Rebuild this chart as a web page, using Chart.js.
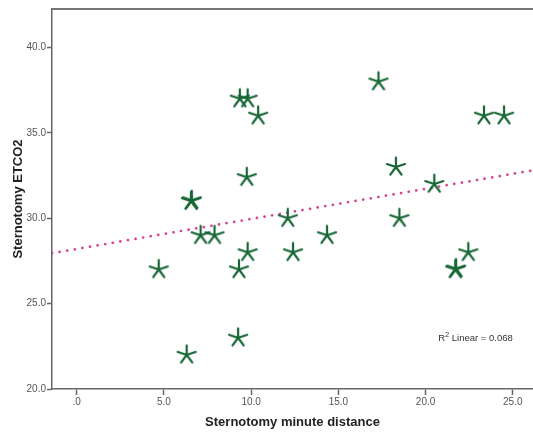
<!DOCTYPE html>
<html>
<head>
<meta charset="utf-8">
<script src="https://cdn.jsdelivr.net/npm/chart.js@4.4.1/dist/chart.umd.min.js"></script>
<style>
  html,body{margin:0;padding:0;background:#fff;}
</style>
</head>
<body>
<canvas id="scatter" width="533" height="433"></canvas>
<script>
// ----- datos -----
const minuteDistance = [4.7, 6.3, 6.55, 6.6, 7.1, 7.9, 9.25, 9.3, 9.35, 9.8, 9.75, 9.8, 10.4, 12.1, 12.4, 14.35, 17.3, 18.3, 18.5, 20.5, 22.45, 21.7, 21.75, 23.35, 24.5];
const etco2 =          [27,  22,  31,   31.05, 29, 29, 23,  27,  37,  37,  32.4, 28,  36,  30,   28,   29,    38,   33,   30,   32,   28,    27,   27.05, 36,   36];
const xTicks = [0, 5, 10, 15, 20, 25];
const yTicks = [20, 25, 30, 35, 40];
const xRange = [-1.42, 26.16];
const yRange = [20, 42.25];
// recta de ajuste lineal
const fitIntercept = 28.2;
const fitSlope = 0.176;
const r2Value = '0.068';

const green = '#156634';
const pink = '#d4448f';
const axisGray = '#666';

// marcador asterisco de 5 brazos
function starMarker(r, color, w){
  const c = document.createElement('canvas');
  const s = Math.ceil(r*2 + w*2);
  c.width = c.height = s;
  const g = c.getContext('2d');
  g.strokeStyle = color; g.lineWidth = w; g.lineCap = 'round';
  g.beginPath();
  for(let i=0;i<5;i++){
    const ang = -Math.PI/2 + i*2*Math.PI/5;
    g.moveTo(s/2, s/2);
    g.lineTo(s/2 + r*Math.cos(ang), s/2 + r*Math.sin(ang));
  }
  g.stroke();
  return c;
}

const points = minuteDistance.map((x,i)=>({x, y: etco2[i]}));
const fitLine = xRange.map(x=>({x, y: fitIntercept + fitSlope*x}));

// marco superior + etiqueta R²
const extras = {
  id:'extras',
  afterDraw(chart){
    const {ctx, chartArea:a, scales:{x,y}} = chart;
    ctx.save();
    ctx.strokeStyle = '#777'; ctx.lineWidth = 2;
    ctx.beginPath(); ctx.moveTo(a.left, a.top); ctx.lineTo(a.right, a.top); ctx.stroke();

    const right = x.getPixelForValue(25);
    const base = y.getPixelForValue(23) + 3.5;
    const main = '9.5px "Liberation Sans"';
    const sup = '7px "Liberation Sans"';
    ctx.fillStyle = '#333';
    ctx.textBaseline = 'alphabetic';
    ctx.font = main;
    const tail = ' Linear = ' + r2Value;
    const wR = ctx.measureText('R').width, wT = ctx.measureText(tail).width;
    ctx.font = sup;
    const w2 = ctx.measureText('2').width;
    let px = right - (wR + w2 + wT);
    ctx.font = main; ctx.fillText('R', px, base); px += wR;
    ctx.font = sup; ctx.fillText('2', px, base - 4); px += w2;
    ctx.font = main; ctx.fillText(tail, px, base);
    ctx.restore();
  }
};

const tickFont = {family:'"Liberation Sans", Arial, sans-serif', size:10};
const titleFont = {family:'"Liberation Sans", Arial, sans-serif', size:13, weight:'bold'};

new Chart(document.getElementById('scatter'), {
  type:'scatter',
  data:{
    datasets:[
      { data: points, pointStyle: starMarker(9.5, green, 2.2), pointRadius: 10, pointHoverRadius: 10 },
      { data: fitLine, showLine:true, pointRadius:0, borderColor: pink, borderWidth:2.7,
        borderDash:[0.1, 7.6], borderCapStyle:'round', fill:false }
    ]
  },
  options:{
    responsive:false, animation:false,
    layout:{ autoPadding:false, padding:{ top:9, right:0, left:0, bottom:0 } },
    plugins:{ legend:{ display:false }, tooltip:{ enabled:false } },
    scales:{
      x:{
        type:'linear', min: xRange[0], max: xRange[1],
        afterBuildTicks: s=>{ s.ticks = xTicks.map(v=>({value:v})); },
        afterFit: s=>{ s.height = 44; },
        grid:{ drawOnChartArea:false, drawTicks:true, tickLength:6, tickWidth:1.5, color: axisGray },
        border:{ display:true, color: axisGray, width:1.5 },
        ticks:{ padding:1, color:'#555', font: tickFont, maxRotation:0, autoSkip:false,
          callback: v => v===0 ? '.0' : v.toFixed(1) },
        title:{ display:true, text:'Sternotomy minute distance', color:'#222', font: titleFont, padding:{ top:0, bottom:3 } }
      },
      y:{
        type:'linear', min: yRange[0], max: yRange[1],
        afterBuildTicks: s=>{ s.ticks = yTicks.map(v=>({value:v})); },
        afterFit: s=>{ s.width = 52; },
        grid:{ drawOnChartArea:false, drawTicks:true, tickLength:5, tickWidth:1.5, color: axisGray },
        border:{ display:true, color: axisGray, width:1.5 },
        ticks:{ padding:1, color:'#555', font: tickFont, autoSkip:false,
          callback: v => v.toFixed(1) },
        title:{ display:true, text:'Sternotomy ETCO2', color:'#222', font: titleFont, padding:{ top:11, bottom:0 } }
      }
    }
  },
  plugins:[extras]
});
</script>
</body>
</html>
